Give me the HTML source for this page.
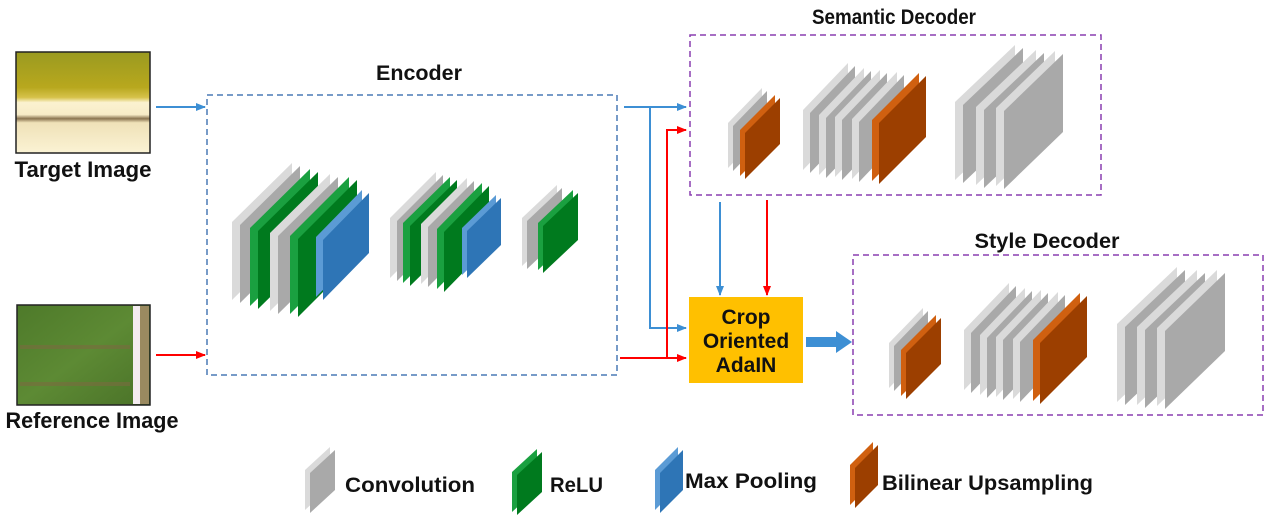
<!DOCTYPE html>
<html><head><meta charset="utf-8">
<style>
html,body{margin:0;padding:0;background:#fff;}
svg{display:block;}
text{font-family:"Liberation Sans",sans-serif;font-weight:bold;fill:#111;}
</style></head>
<body>
<svg id="s" width="1271" height="522" viewBox="0 0 1271 522" xmlns="http://www.w3.org/2000/svg">
<defs>
<linearGradient id="tg" x1="0" y1="0" x2="0" y2="1">
<stop offset="0" stop-color="#9a9a20"/><stop offset="0.35" stop-color="#b8a81e"/><stop offset="0.45" stop-color="#d6c24a"/><stop offset="0.5" stop-color="#fbf2d0"/><stop offset="0.62" stop-color="#f7ecc8"/><stop offset="0.66" stop-color="#8a7450"/><stop offset="0.7" stop-color="#efe1b8"/><stop offset="1" stop-color="#fbf3d4"/>
</linearGradient>
<linearGradient id="rg" x1="0" y1="0" x2="1" y2="1">
<stop offset="0" stop-color="#4e7a2a"/><stop offset="0.5" stop-color="#5d8a34"/><stop offset="1" stop-color="#4a7228"/>
</linearGradient>
<marker id="ab" markerWidth="10" markerHeight="10" refX="9" refY="5" orient="auto" markerUnits="userSpaceOnUse"><path d="M0,1 L10,5 L0,9 z" fill="#3d8fd4"/></marker>
<marker id="ar" markerWidth="10" markerHeight="10" refX="9" refY="5" orient="auto" markerUnits="userSpaceOnUse"><path d="M0,1 L10,5 L0,9 z" fill="#f00"/></marker>
</defs>

<rect x="16" y="52" width="134" height="101" fill="url(#tg)" stroke="#222" stroke-width="1.5"/>
<rect x="17" y="305" width="133" height="100" fill="url(#rg)" stroke="#222" stroke-width="1.5"/>
<rect x="20" y="345" width="110" height="4" fill="#7a6a40" opacity="0.6"/>
<rect x="20" y="382" width="110" height="4" fill="#7a6a40" opacity="0.6"/>
<rect x="133" y="306" width="7" height="98" fill="#f4ecf0"/>
<rect x="140" y="306" width="9" height="98" fill="#9a8a60"/>
<text x="83" y="177" font-size="22" text-anchor="middle" textLength="137" lengthAdjust="spacingAndGlyphs">Target Image</text>
<text x="92" y="428" font-size="22" text-anchor="middle" textLength="173" lengthAdjust="spacingAndGlyphs">Reference Image</text>

<rect x="207" y="95" width="410" height="280" fill="none" stroke="#4a7ab5" stroke-width="1.5" stroke-dasharray="6,4"/>
<rect x="690" y="35" width="411" height="160" fill="none" stroke="#8a3fb0" stroke-width="1.5" stroke-dasharray="6,4"/>
<rect x="853" y="255" width="410" height="160" fill="none" stroke="#8a3fb0" stroke-width="1.5" stroke-dasharray="6,4"/>
<text x="419" y="80" font-size="21" text-anchor="middle" textLength="86" lengthAdjust="spacingAndGlyphs">Encoder</text>
<text x="894" y="24" font-size="21" text-anchor="middle" textLength="164" lengthAdjust="spacingAndGlyphs">Semantic Decoder</text>
<text x="1047" y="248" font-size="21" text-anchor="middle" textLength="145" lengthAdjust="spacingAndGlyphs">Style Decoder</text>

<g stroke-width="2" fill="none">
<line x1="156" y1="107" x2="205" y2="107" stroke="#3d8fd4" marker-end="url(#ab)"/>
<line x1="156" y1="355" x2="205" y2="355" stroke="#f00" marker-end="url(#ar)"/>
<line x1="624" y1="107" x2="686" y2="107" stroke="#3d8fd4" marker-end="url(#ab)"/>
<polyline points="650,107 650,328 686,328" stroke="#3d8fd4" marker-end="url(#ab)"/>
<polyline points="620,358 686,358" stroke="#f00" marker-end="url(#ar)"/>
<polyline points="667,358 667,130 686,130" stroke="#f00" marker-end="url(#ar)"/>
<line x1="720" y1="202" x2="720" y2="295" stroke="#3d8fd4" marker-end="url(#ab)"/>
<line x1="767" y1="200" x2="767" y2="295" stroke="#f00" marker-end="url(#ar)"/>
</g>
<rect x="689" y="297" width="114" height="86" fill="#ffc000"/>
<text x="746" y="324" font-size="21" text-anchor="middle">Crop</text>
<text x="746" y="348" font-size="21" text-anchor="middle">Oriented</text>
<text x="746" y="372" font-size="21" text-anchor="middle">AdaIN</text>
<path d="M806,337 L836,337 L836,331 L852,342 L836,353 L836,347 L806,347 z" fill="#3d8fd4"/>

<g id="slabs"></g>

<text x="345" y="492" font-size="21" textLength="130" lengthAdjust="spacingAndGlyphs">Convolution</text>
<text x="550" y="492" font-size="21" textLength="53" lengthAdjust="spacingAndGlyphs">ReLU</text>
<text x="685" y="488" font-size="21" textLength="132" lengthAdjust="spacingAndGlyphs">Max Pooling</text>
<text x="882" y="490" font-size="21" textLength="211" lengthAdjust="spacingAndGlyphs">Bilinear Upsampling</text>
</svg>
<script>
var C={g:["#dadada","#a9a9a9"],n:["#1aa040","#007a1e"],b:["#5b9bd5","#2e75b6"],o:["#d06010","#9c3f00"]};
var out="";
function slab(c,xl,yb,w,h,dy){
 var t=w>60?8:(w>45?7:5),f=C[c];
 var x0=xl,x1=xl+w;
 out+='<polygon fill="'+f[0]+'" points="'+x0+','+(yb-h)+' '+(x1-t)+','+(yb-h-dy)+' '+(x1-t)+','+(yb-dy)+' '+x0+','+yb+'"/>';
 out+='<polygon fill="'+f[1]+'" points="'+(x0+t)+','+(yb-h+3)+' '+x1+','+(yb-h-dy+3)+' '+x1+','+(yb-dy+3)+' '+(x0+t)+','+(yb+3)+'"/>';
}
var L=[
['g',232,300,68,78,59],['n',250,306,68,78,59],['g',270,311,68,78,59],['n',290,314,67,78,59],['b',316,297,53,60,47],
['g',390,278,53,60,46],['n',403,283,54,60,46],['g',421,284,53,60,46],['n',437,289,52,60,46],['b',462,275,39,47,33],
['g',522,266,40,48,33],['n',538,270,40,47,33],
['g',728,168,39,45,35],['o',740,176,40,46,35],
['g',803,170,52,60,47],['g',819,175,52,60,47],['g',835,177,52,60,47],['g',852,179,52,60,47],['o',872,181,54,61,47],
['g',955,180,68,78,57],['g',976,185,68,78,57],['g',996,186,67,78,57],
['g',889,388,39,45,35],['o',901,396,40,46,35],
['g',964,390,52,60,47],['g',980,395,52,60,47],['g',996,397,52,60,47],['g',1013,399,52,60,47],['o',1033,401,54,61,47],
['g',1117,402,68,78,57],['g',1137,405,68,78,57],['g',1157,406,68,78,58],
['g',305,510,30,40,23],['n',512,512,30,40,23],['b',655,510,28,40,23],['o',850,505,28,40,23]
];
L.forEach(function(a){slab.apply(null,a);});
document.getElementById("slabs").innerHTML=out;
</script>
</body></html>
